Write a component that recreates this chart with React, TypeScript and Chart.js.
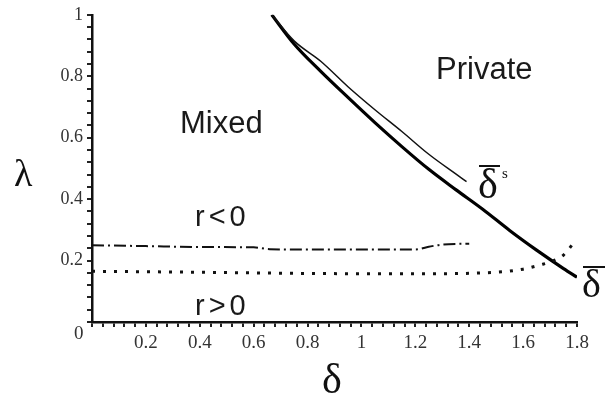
import React, { useEffect, useRef } from "react";
import { Chart, registerables } from "chart.js";

Chart.register(...registerables);

// delta-bar (thick solid)
const deltaBarX = [0.667, 0.75, 0.85, 0.95, 1.05, 1.15, 1.25, 1.35, 1.45, 1.55, 1.65, 1.75, 1.8];
const deltaBarY = [1.0, 0.905, 0.815, 0.731, 0.649, 0.571, 0.497, 0.431, 0.367, 0.298, 0.234, 0.174, 0.146];

// delta-bar^s (thin solid)
const deltaSX = [0.667, 0.75, 0.85, 0.95, 1.05, 1.15, 1.25, 1.35, 1.39];
const deltaSY = [1.0, 0.915, 0.848, 0.766, 0.691, 0.62, 0.546, 0.482, 0.457];

// r<0 boundary (dash-dot)
const rNegX = [0, 0.2, 0.4, 0.6, 0.66, 0.8, 1.0, 1.2, 1.25, 1.3, 1.4];
const rNegY = [0.25, 0.247, 0.244, 0.243, 0.237, 0.236, 0.236, 0.236, 0.245, 0.252, 0.255];

// r>0 boundary (dotted)
const rPosX = [0, 0.4, 0.8, 1.2, 1.5, 1.6, 1.66, 1.72, 1.75, 1.79];
const rPosY = [0.165, 0.162, 0.158, 0.157, 0.162, 0.172, 0.185, 0.202, 0.218, 0.26];

const xMin = 0, xMax = 1.8, yMin = 0, yMax = 1;
const minorStep = 0.04;
const majorStep = 0.2;

const pts = (xs: number[], ys: number[]) => xs.map((x, i) => ({ x, y: ys[i] }));

const isMajor = (v: number) => Math.abs(v / majorStep - Math.round(v / majorStep)) < 1e-6;
const fmt = (v: number) => {
  if (Math.abs(v) < 1e-9) return "";
  if (!isMajor(v)) return "";
  return String(Math.round(v * 10) / 10);
};

const annotations = {
  id: "annotations",
  afterDraw(chart: any) {
    const ctx = chart.ctx;
    ctx.save();
    ctx.fillStyle = "#1a1a1a";
    ctx.strokeStyle = "#111";
    ctx.textBaseline = "alphabetic";
    ctx.textAlign = "left";

    ctx.font = "31px 'Liberation Sans', Arial, sans-serif";
    ctx.fillText("Mixed", 180, 133);
    ctx.fillText("Private", 436, 79);

    ctx.font = "29px 'Liberation Sans', Arial, sans-serif";
    (ctx as any).letterSpacing = "4px";
    ctx.fillText("r<0", 195, 226);
    ctx.fillText("r>0", 195, 315);
    (ctx as any).letterSpacing = "0px";

    // origin label
    ctx.font = "19px 'Liberation Serif', serif";
    ctx.fillStyle = "#333";
    ctx.fillText("0", 74, 339);

    // axis titles
    ctx.fillStyle = "#111";
    ctx.font = "38px 'Liberation Serif', 'DejaVu Serif', serif";
    ctx.fillText("\u03bb", 14, 186);
    ctx.font = "42px 'Liberation Serif', 'DejaVu Serif', serif";
    ctx.fillText("\u03b4", 322, 393);

    // delta-bar^s label
    ctx.font = "42px 'Liberation Serif', 'DejaVu Serif', serif";
    ctx.fillText("\u03b4", 478, 198);
    ctx.lineWidth = 2;
    ctx.beginPath();
    ctx.moveTo(479, 166);
    ctx.lineTo(500, 166);
    ctx.stroke();
    ctx.font = "15px 'Liberation Serif', serif";
    ctx.fillText("s", 502, 178);

    // delta-bar label
    ctx.font = "40px 'Liberation Serif', 'DejaVu Serif', serif";
    ctx.fillText("\u03b4", 582, 297);
    ctx.beginPath();
    ctx.moveTo(583, 267);
    ctx.lineTo(605, 267);
    ctx.stroke();

    ctx.restore();
  },
};

export default function App() {
  const ref = useRef<HTMLCanvasElement | null>(null);
  useEffect(() => {
    if (!ref.current) return;
    const chart = new Chart(ref.current, {
      type: "line",
      data: {
        datasets: [
          {
            label: "r<0",
            data: pts(rNegX, rNegY),
            borderColor: "#111",
            borderWidth: 2,
            borderDash: [12, 4, 2, 4],
            pointRadius: 0,
            cubicInterpolationMode: "monotone",
          },
          {
            label: "r>0",
            data: pts(rPosX, rPosY),
            borderColor: "#111",
            borderWidth: 3,
            borderDash: [3, 8],
            pointRadius: 0,
            cubicInterpolationMode: "monotone",
          },
          {
            label: "delta s",
            data: pts(deltaSX, deltaSY),
            borderColor: "#111",
            borderWidth: 1.5,
            pointRadius: 0,
            cubicInterpolationMode: "monotone",
          },
          {
            label: "delta",
            data: pts(deltaBarX, deltaBarY),
            borderColor: "#000",
            borderWidth: 3.2,
            pointRadius: 0,
            cubicInterpolationMode: "monotone",
          },
        ],
      },
      options: {
        animation: false,
        responsive: false,
        parsing: true,
        layout: { padding: { left: 0, top: 14, right: 28, bottom: 0 } },
        plugins: { legend: { display: false }, tooltip: { enabled: false } },
        scales: {
          x: {
            type: "linear",
            min: xMin,
            max: xMax,
            afterFit: (s: any) => { s.height = 75; },
            ticks: {
              stepSize: minorStep,
              autoSkip: false,
              maxRotation: 0,
              padding: 5,
              color: "#333",
              font: { family: "'Liberation Serif', serif", size: 19 },
              callback: (v: any) => fmt(Number(v)),
            },
            grid: { drawOnChartArea: false, drawTicks: true, tickLength: 5, color: "#222", lineWidth: 2 },
            border: { display: true, color: "#111", width: 2.5 },
          },
          y: {
            type: "linear",
            min: yMin,
            max: yMax,
            afterFit: (s: any) => { s.width = 92; },
            ticks: {
              stepSize: minorStep,
              autoSkip: false,
              padding: 4,
              color: "#333",
              font: { family: "'Liberation Serif', serif", size: 18 },
              callback: (v: any) => fmt(Number(v)),
            },
            grid: { drawOnChartArea: false, drawTicks: true, tickLength: 5, color: "#222", lineWidth: 2 },
            border: { display: true, color: "#111", width: 2.5 },
          },
        },
      },
      plugins: [annotations],
    } as any);
    return () => chart.destroy();
  }, []);
  return (
    <div style={{ position: "fixed", left: 0, top: 0, width: 605, height: 397, background: "#fff" }}>
      <canvas ref={ref} width={605} height={397} />
    </div>
  );
}
